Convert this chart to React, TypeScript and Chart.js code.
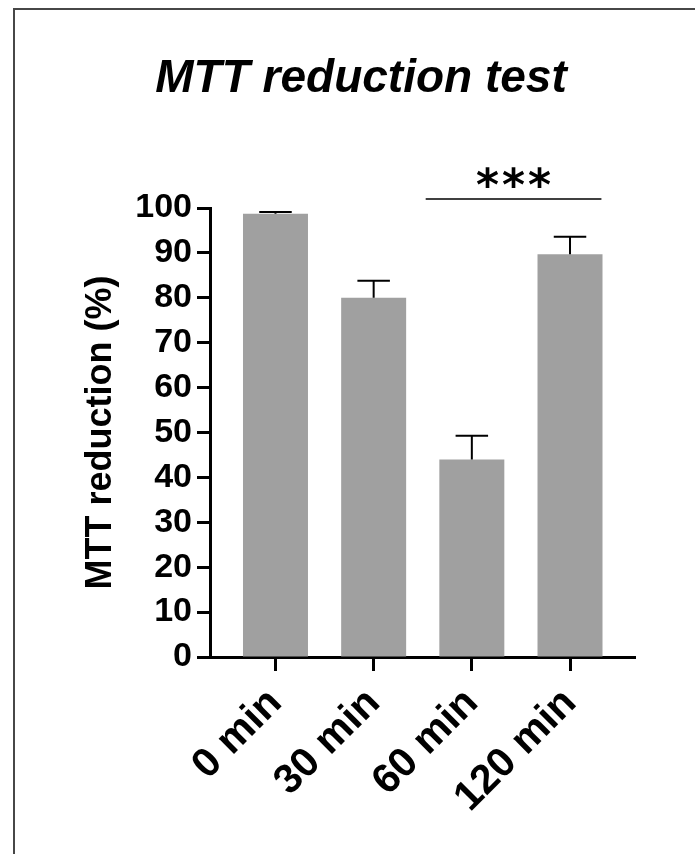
import { useEffect, useRef } from 'react';
import { Chart, registerables } from 'chart.js';

Chart.register(...registerables);

// ---- data ----
const CATEGORIES = ['0 min', '30 min', '60 min', '120 min'];
const MEANS = [98.7, 80.0, 44.0, 89.7];
const ERRORS = [0.4, 3.8, 5.3, 3.9];
const Y_TICKS = [0, 10, 20, 30, 40, 50, 60, 70, 80, 90, 100];
const TITLE = 'MTT reduction test';
const Y_TITLE = 'MTT reduction (%)';
// significance bracket, in data units
const SIG_FROM = 1.53;
const SIG_TO = 3.32;
const SIG_Y = 102;
const SIG_LABEL_Y = 104.4;
const SIG_LABEL = '***';

const FONT = "'Liberation Sans', Arial, sans-serif";

const errorBarPlugin = {
  id: 'errorBars',
  afterDatasetsDraw(chart: any) {
    const { ctx } = chart;
    const y = chart.scales.y;
    const meta = chart.getDatasetMeta(0);
    ctx.save();
    ctx.strokeStyle = '#000';
    ctx.lineWidth = 2;
    meta.data.forEach((bar: any, i: number) => {
      const base = y.getPixelForValue(MEANS[i]);
      const top = y.getPixelForValue(MEANS[i] + ERRORS[i]);
      const half = bar.width / 4;
      ctx.beginPath();
      ctx.moveTo(bar.x, base);
      ctx.lineTo(bar.x, top);
      ctx.moveTo(bar.x - half, top);
      ctx.lineTo(bar.x + half, top);
      ctx.stroke();
    });
    ctx.restore();
  },
};

const sigPlugin = {
  id: 'significance',
  afterDraw(chart: any) {
    const { ctx } = chart;
    const x = chart.scales.x;
    const y = chart.scales.y;
    const x1 = x.getPixelForValue(SIG_FROM);
    const x2 = x.getPixelForValue(SIG_TO);
    const yy = y.getPixelForValue(SIG_Y);
    ctx.save();
    ctx.strokeStyle = '#000';
    ctx.lineWidth = 1.6;
    ctx.beginPath();
    ctx.moveTo(x1, yy);
    ctx.lineTo(x2, yy);
    ctx.stroke();
    ctx.fillStyle = '#000';
    ctx.font = "bold 44px 'DejaVu Sans'";
    (ctx as any).letterSpacing = '3px';
    ctx.textAlign = 'center';
    ctx.textBaseline = 'middle';
    ctx.fillText(SIG_LABEL, (x1 + x2) / 2 + 1.5, y.getPixelForValue(SIG_LABEL_Y));
    ctx.restore();
  },
};

export default function App() {
  const ref = useRef<HTMLCanvasElement>(null);

  useEffect(() => {
    if (!ref.current) return;
    const chart = new Chart(ref.current, {
      type: 'bar',
      data: {
        datasets: [
          {
            data: MEANS.map((v, i) => ({ x: i, y: v })),
            backgroundColor: '#a0a0a0',
            borderWidth: 0,
            barPercentage: 0.662,
            categoryPercentage: 1,
          },
        ],
      },
      options: {
        animation: false,
        responsive: false,
        devicePixelRatio: 1,
        layout: { padding: { left: 87, right: 60, top: 0, bottom: 0 } },
        plugins: {
          legend: { display: false },
          tooltip: { enabled: false },
          title: {
            display: true,
            text: TITLE,
            color: '#000',
            font: { family: FONT, size: 46, weight: 'bold', style: 'italic', lineHeight: 1.2 },
            padding: { top: 52, bottom: 100.8 },
          },
        },
        scales: {
          x: {
            type: 'linear',
            offset: false,
            min: -0.667,
            max: 3.662,
            afterBuildTicks: (scale: any) => {
              scale.ticks = CATEGORIES.map((_, i) => ({ value: i }));
            },
            afterFit: (scale: any) => {
              scale.height = 197;
            },
            ticks: {
              autoSkip: false,
              minRotation: 45,
              maxRotation: 45,
              padding: 11,
              color: '#000',
              font: { family: FONT, size: 41, weight: 'bold', lineHeight: 1.0 },
              callback: (value: any) => CATEGORIES[Math.round(Number(value))] ?? '',
            },
            grid: {
              display: true,
              offset: false,
              drawOnChartArea: false,
              drawTicks: true,
              tickLength: 14,
              tickWidth: 3,
              tickColor: '#000',
            },
            border: { display: true, color: '#000', width: 3 },
          },
          y: {
            min: 0,
            max: 100,
            afterBuildTicks: (scale: any) => {
              scale.ticks = Y_TICKS.map((v) => ({ value: v }));
            },
            afterFit: (scale: any) => {
              scale.width = 123;
            },
            ticks: {
              padding: 5,
              color: '#000',
              font: { family: FONT, size: 34, weight: 'bold' },
            },
            grid: {
              display: true,
              drawOnChartArea: false,
              drawTicks: true,
              tickLength: 13,
              tickWidth: 3,
              tickColor: '#000',
            },
            border: { display: true, color: '#000', width: 3 },
            title: {
              display: true,
              text: Y_TITLE,
              color: '#000',
              font: { family: FONT, size: 36, weight: 'bold', lineHeight: 0.8 },
              padding: 0,
            },
          },
        },
      } as any,
      plugins: [errorBarPlugin, sigPlugin],
    });
    return () => chart.destroy();
  }, []);

  return (
    <div
      style={{
        position: 'absolute',
        left: 0,
        top: 0,
        width: 695,
        height: 854,
        overflow: 'hidden',
        background: '#fff',
      }}
    >
      <div
        style={{
          position: 'absolute',
          left: 13,
          top: 8,
          width: 800,
          height: 1000,
          border: '2.5px solid #474747',
        }}
      />
      <canvas
        ref={ref}
        width={695}
        height={854}
        style={{ position: 'absolute', left: 0, top: 0, width: 695, height: 854 }}
      />
    </div>
  );
}
